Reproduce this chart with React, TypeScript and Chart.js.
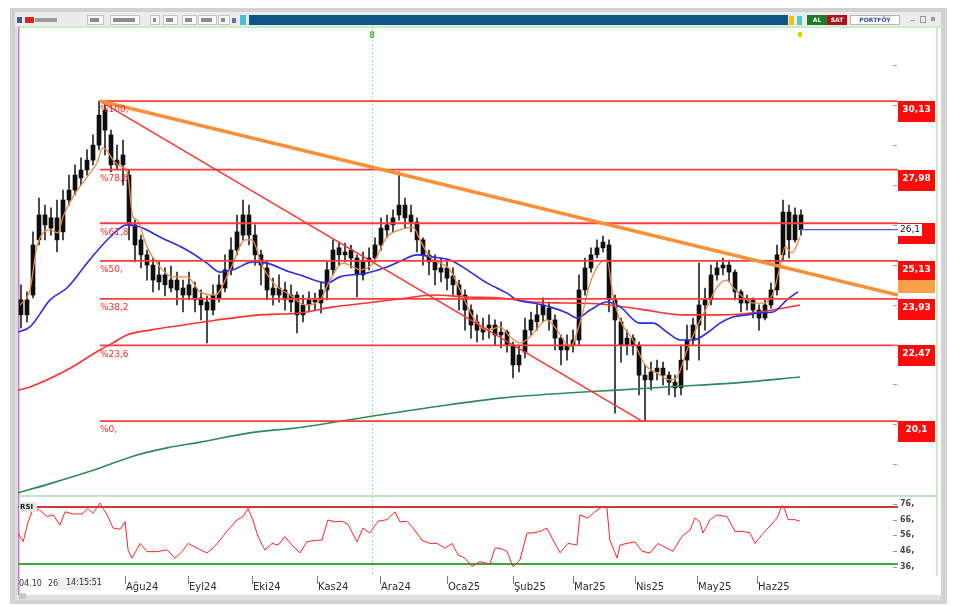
import React, { useEffect, useRef } from "react";
import { Chart, registerables } from "chart.js";

Chart.register(...registerables);

// ---------------- data ----------------
// one candle every two trading days, first candle on trading day 1
const candleFirstDay = 1;
const candleStepDays = 2;

const candleOpen = [
  23.90, 23.43, 24.05, 25.78, 26.56, 26.15, 26.47, 26.03, 27.03, 27.34,
  27.72, 27.97, 28.28, 28.75, 29.85, 29.07, 28.13, 28.44, 27.81, 26.25,
  25.78, 25.31, 24.99, 24.46, 24.68, 24.27, 24.52, 24.27, 24.05, 24.27,
  23.96, 23.83, 23.58, 23.96, 24.27, 24.84, 25.46, 25.93, 26.56, 25.93,
  25.31, 24.90, 24.27, 24.05, 24.21, 23.83, 24.05, 23.43, 23.74, 23.90,
  23.80, 24.21, 24.84, 25.53, 25.31, 25.46, 25.21, 24.68, 25.09, 25.21,
  25.62, 26.09, 26.25, 26.56, 26.87, 26.56, 26.34, 25.78, 25.31, 25.09,
  24.77, 24.90, 24.65, 24.37, 24.05, 23.58, 23.21, 22.89, 23.02, 23.11,
  22.80, 22.89, 22.48, 21.86, 22.26, 22.95, 23.21, 23.43, 23.64, 23.27,
  22.70, 22.33, 22.48, 22.64, 24.21, 24.90, 25.31, 25.53, 25.62, 23.90,
  23.21, 22.48, 22.70, 22.48, 21.54, 21.39, 21.64, 21.76, 21.54, 21.32,
  21.14, 22.01, 22.64, 23.11, 23.74, 23.90, 24.68, 24.90, 24.99, 24.77,
  24.15, 23.80, 23.90, 23.58, 23.33, 23.74, 24.21, 25.31, 26.65, 25.78,
  26.56,
];
const candleHigh = [
  24.37, 24.15, 26.03, 27.09, 26.87, 26.78, 27.03, 27.34, 27.81, 28.13,
  28.35, 28.60, 29.07, 30.13, 30.01, 29.22, 28.75, 28.91, 27.97, 26.40,
  25.93, 25.46, 25.21, 25.09, 24.90, 24.96, 24.77, 24.52, 24.77, 24.46,
  24.21, 24.02, 24.37, 24.68, 25.31, 25.84, 26.56, 27.03, 26.87, 26.25,
  25.46, 25.15, 24.58, 24.68, 24.46, 24.37, 24.15, 24.05, 24.15, 24.11,
  24.46, 25.09, 25.78, 25.71, 25.68, 25.62, 25.31, 25.40, 25.53, 25.84,
  26.47, 26.56, 26.72, 27.91, 27.09, 26.87, 26.47, 25.84, 25.46, 25.31,
  25.21, 25.09, 24.90, 24.52, 24.21, 23.74, 23.43, 23.33, 23.43, 23.27,
  23.21, 22.95, 22.58, 22.48, 23.33, 23.52, 23.74, 23.96, 23.83, 23.43,
  22.80, 22.80, 22.95, 24.68, 25.21, 25.53, 25.78, 25.90, 25.78, 24.05,
  23.33, 22.95, 22.80, 22.58, 21.86, 21.95, 22.01, 21.95, 21.64, 21.54,
  22.48, 23.11, 23.33, 25.05, 24.27, 24.99, 25.09, 25.21, 25.15, 24.84,
  24.21, 24.05, 23.96, 23.74, 23.90, 24.43, 25.62, 27.03, 26.87, 26.78,
  26.72,
];
const candleLow = [
  23.02, 23.21, 23.96, 25.62, 25.78, 25.93, 25.40, 25.78, 26.87, 27.19,
  27.50, 27.81, 28.13, 28.60, 28.44, 27.91, 27.97, 27.50, 25.78, 25.09,
  24.90, 24.52, 24.15, 24.21, 24.02, 24.15, 23.74, 23.52, 23.90, 23.52,
  23.27, 22.55, 23.43, 23.83, 24.15, 24.68, 25.31, 25.78, 25.62, 24.99,
  24.37, 23.90, 23.74, 23.83, 23.58, 23.52, 22.86, 23.21, 23.52, 23.58,
  23.49, 23.90, 24.68, 24.99, 25.09, 24.90, 23.99, 24.52, 24.84, 25.09,
  25.46, 25.84, 26.03, 26.40, 26.15, 26.03, 25.40, 24.99, 24.68, 24.37,
  24.46, 24.21, 24.05, 23.58, 22.95, 22.70, 22.58, 22.64, 22.70, 22.48,
  22.39, 22.26, 21.45, 21.64, 22.08, 22.80, 22.95, 23.21, 22.95, 22.33,
  21.86, 22.01, 22.26, 22.48, 24.05, 24.77, 25.21, 25.40, 23.52, 20.35,
  21.95, 22.17, 22.17, 20.92, 20.10, 21.08, 21.39, 21.23, 20.92, 20.86,
  20.92, 21.70, 22.48, 22.01, 22.95, 23.74, 24.52, 24.68, 24.46, 23.90,
  23.52, 23.58, 23.33, 22.95, 23.27, 23.64, 24.05, 25.15, 25.21, 25.71,
  25.93,
];
const candleClose = [
  23.43, 23.90, 25.62, 26.56, 26.25, 26.47, 25.78, 27.03, 27.34, 27.81,
  27.97, 28.28, 28.75, 29.69, 29.22, 28.13, 28.28, 28.13, 26.25, 25.62,
  25.31, 24.99, 24.52, 24.68, 24.37, 24.52, 24.21, 24.05, 24.37, 23.90,
  23.74, 23.58, 24.05, 24.37, 24.84, 25.46, 26.03, 26.56, 25.93, 25.31,
  24.99, 24.21, 24.05, 24.27, 23.90, 24.05, 23.43, 23.74, 23.90, 23.83,
  24.21, 24.84, 25.46, 25.31, 25.40, 25.21, 24.68, 25.09, 25.21, 25.62,
  26.15, 26.25, 26.47, 26.87, 26.47, 26.34, 25.78, 25.31, 25.09, 24.84,
  24.90, 24.58, 24.37, 24.05, 23.58, 23.11, 22.95, 23.02, 23.11, 22.80,
  22.89, 22.48, 21.86, 22.17, 22.95, 23.27, 23.43, 23.74, 23.27, 22.70,
  22.33, 22.48, 22.64, 24.21, 24.90, 25.31, 25.53, 25.71, 23.90, 23.27,
  22.48, 22.70, 22.48, 21.54, 21.39, 21.64, 21.76, 21.54, 21.32, 21.14,
  22.01, 22.64, 23.11, 23.74, 23.90, 24.68, 24.90, 24.99, 24.77, 24.15,
  23.80, 23.90, 23.58, 23.33, 23.74, 24.21, 25.31, 26.65, 25.78, 26.56,
  26.10,
];

// moving averages: [trading day, value]
const orangeMA = [
  [0.7, 23.74], [4, 24.21], [6.3, 25.56], [10.7, 26.09], [13.3, 26.0], [15, 26.5], [18.3, 27.12],
  [23, 27.75], [26.3, 28.19], [28.3, 28.66], [30, 28.53], [31.7, 28.28], [34.7, 28.06], [36.3, 27.97],
  [38.3, 26.5], [39.7, 26.4], [43, 25.56], [46.3, 25.05], [51.7, 24.62], [56.3, 24.62], [60.7, 24.15],
  [65.7, 24.05], [70.7, 24.84], [75.7, 25.78], [78, 25.78], [81.3, 24.99], [85.7, 24.37], [90.7, 24.05],
  [95.7, 23.74], [100.7, 23.9], [104, 24.52], [108.3, 25.05], [111.7, 24.93], [114, 24.84], [118.3, 25.05],
  [123, 25.87], [127.3, 26.09], [131.7, 26.18], [134, 25.78], [137.3, 25.24], [144, 24.84], [147.3, 24.21],
  [151.7, 23.36], [156.3, 22.95], [160.7, 23.05], [164, 22.74], [167.3, 22.55], [170.7, 22.74], [176.3, 23.27],
  [179.7, 22.95], [184, 22.42], [187.3, 23.17], [190.7, 24.43], [194, 25.05], [196.3, 25.15], [198.3, 24.05],
  [200.7, 23.27], [205, 22.64], [209, 21.86], [213, 21.61], [217.3, 21.39], [219.7, 21.48], [223, 22.33],
  [226.3, 23.05], [229.7, 23.68], [233, 24.3], [236.3, 24.52], [238.3, 24.3], [241.7, 23.99], [245, 23.8],
  [248.3, 23.8], [251.7, 24.11], [254, 24.93], [255.7, 25.56], [258, 25.37], [260.7, 25.87],
];
const blueMA = [
  [0, 22.89], [4, 23.05], [10.7, 23.9], [16.3, 24.27], [23, 25.05], [30.7, 25.87], [36.3, 26.25],
  [40.7, 26.18], [47.3, 25.87], [56.3, 25.46], [63, 25.05], [67.3, 24.77], [71.7, 24.84], [78.3, 25.09],
  [83, 25.05], [90.7, 24.77], [94, 24.68], [103, 24.43], [107.3, 24.62], [116.3, 24.74], [123, 24.93],
  [128.3, 25.15], [133, 25.31], [138.3, 25.24], [144, 25.15], [149.7, 24.84], [156.3, 24.43], [163, 24.11],
  [166.3, 23.9], [171.7, 23.8], [177.3, 23.68], [183, 23.49], [186.3, 23.33], [190.7, 23.58], [196.3, 23.83],
  [200.7, 23.68], [207.3, 23.17], [211.7, 23.17], [216.3, 22.89], [220.7, 22.64], [225, 22.64], [229.7, 22.86],
  [234, 23.17], [238.3, 23.36], [243, 23.43], [247.3, 23.49], [251.7, 23.52], [256.3, 23.9], [260, 24.15],
];
const redMA = [
  [0, 21.07], [4, 21.17], [16.3, 21.7], [27.3, 22.33], [31.7, 22.55], [36.3, 22.8], [44, 22.95],
  [55, 23.11], [66.3, 23.27], [80.7, 23.43], [94, 23.49], [105, 23.68], [116.3, 23.8], [129.7, 23.96],
  [138.3, 24.05], [149.7, 23.99], [160.7, 23.96], [171.7, 23.83], [183, 23.8], [194, 23.77], [207.3, 23.61],
  [221.7, 23.43], [234, 23.43], [247.3, 23.52], [260.7, 23.74],
];
const greenMA = [
  [0, 17.85], [10.7, 18.14], [27.3, 18.63], [38.3, 19.0], [49.7, 19.26], [60.7, 19.44], [77.3, 19.73],
  [94, 19.9], [116.3, 20.23], [138.3, 20.54], [160.7, 20.82], [183, 20.98], [199.7, 21.07], [216.3, 21.17],
  [238.3, 21.29], [260.7, 21.48],
];

// RSI: [trading day, value]
const rsiSeries = [
  [0, 57.6], [1.7, 52], [3.3, 64], [5, 73], [7.3, 72], [9.7, 68], [11.7, 69], [14, 62.6], [15.7, 71],
  [18.3, 69.6], [21.3, 69.6], [23.3, 73], [25, 70], [27.3, 76.5], [29.7, 69], [31.7, 60.7], [34, 60],
  [35.7, 64.7], [36.7, 46.8], [38, 41.7], [39, 45], [40.7, 51], [43, 45.8], [46.3, 45.8], [49.7, 47],
  [52.3, 41.7], [54.7, 45.8], [56.7, 51], [59.7, 48], [63, 45], [65, 48], [67.3, 53], [70, 59.5],
  [73, 65.8], [75, 68], [76.7, 73], [78.3, 65.8], [80, 55.3], [82.3, 46.8], [84.7, 51], [86.7, 50],
  [89, 55.3], [91.3, 50], [94, 45], [96.3, 52], [99, 53], [101.3, 53], [103.3, 65.8], [105.7, 64.6],
  [108, 65], [110, 63], [113, 52], [115, 60.7], [117.3, 57.6], [120, 65], [123, 66], [125.7, 71],
  [127.3, 64.6], [129.7, 65], [131.7, 60.7], [134.7, 53], [137.3, 51], [139.7, 51], [142.3, 48],
  [144.7, 51], [146.7, 43.7], [149, 41.7], [151.3, 36.3], [154, 39.5], [157.3, 38], [159, 48],
  [160.7, 48], [163, 46], [165, 36.3], [167.3, 40.5], [169.7, 57.6], [171.7, 57.6], [174, 58.6],
  [176.3, 60.7], [178, 54.4], [180.7, 45], [183.3, 51], [186.3, 50], [187.3, 69], [190, 67],
  [192.3, 71], [194.7, 74], [196.3, 73.4], [197.3, 53], [199.7, 41.7], [200.7, 50], [203, 51],
  [205.7, 52], [208, 46], [210.7, 45], [213.3, 51], [216.3, 48], [218.3, 46], [221.3, 55.3],
  [224, 59.5], [225.7, 67], [227.3, 64.6], [228.3, 57.6], [230.7, 66], [233, 69], [236.3, 68],
  [239, 58.6], [241.7, 58.6], [244, 57.6], [245.7, 51], [248, 56.6], [250.7, 62], [253, 67],
  [254.7, 75], [255.7, 72], [256.7, 66], [259, 66], [260.7, 65],
];
const rsiUpper = 74;
const rsiLower = 38;
const rsiTickValues = [76, 66, 56, 46, 36];
const rsiTickLabels = ["76,", "66,", "56,", "46,", "36,"];

// Fibonacci retracement
const fibLevels = [30.13, 27.98, 26.3, 25.12, 23.93, 22.47, 20.1];
const fibNames = ["%100,", "%78,6", "%61,8", "%50,", "%38,2", "%23,6", "%0,"];
const fibBoxText = ["30,13", "27,98", "", "25,13", "23,93", "22,47", "20,1"];
const fibStartDay = 27.3;
const axisEndDay = 293.3;
const trendLine = [[27.3, 30.13], [293.3, 24.05]];
const retraceLine = [[27.3, 30.13], [208, 20.1]];
const lastPrice = 26.1;
const lastPriceText = "26,1";
const lastDay = 260.7;

// time axis
const monthLabels = ["Ağu24", "Eyl24", "Eki24", "Kas24", "Ara24", "Oca25", "Şub25", "Mar25", "Nis25", "May25", "Haz25"];
const monthDays = [35.7, 56.7, 78, 99.7, 120.7, 143, 165, 185, 205.7, 226.3, 246.3];
const priceTickValues = [18.75, 20, 21.25, 22.5, 23.75, 25, 26.25, 27.5, 28.75, 30, 31.25];
const eventDay = 118;

// ---------------- helpers ----------------
const pts = (arr: number[][]) => arr.map((p) => ({ x: p[0], y: p[1] }));
const FONT = '"DejaVu Sans", sans-serif';

const decorPlugin = {
  id: "decor",
  beforeDraw(chart: any) {
    const ctx = chart.ctx;
    ctx.save();
    ctx.fillStyle = "#ffffff";
    ctx.fillRect(0, 0, 960, 606);
    // window frame
    ctx.fillStyle = "#d2d2d2";
    ctx.fillRect(10, 8, 937, 4);
    ctx.fillRect(10, 8, 5, 596);
    ctx.fillRect(941, 8, 6, 596);
    ctx.fillRect(10, 600, 937, 4);
    // toolbar
    ctx.fillStyle = "#ececec";
    ctx.fillRect(15, 12, 926, 14);
    ctx.fillStyle = "#0d5585";
    ctx.fillRect(249, 15, 539, 10);
    ctx.fillStyle = "#5050a8";
    ctx.fillRect(17, 17, 5, 6);
    ctx.fillStyle = "#e02020";
    ctx.fillRect(25, 17, 9, 6);
    ctx.fillStyle = "#9a9a9a";
    ctx.fillRect(35, 18, 22, 4);
    const boxes = [[87, 17], [110, 30], [150, 10], [163, 15], [182, 15], [198, 19], [218, 12]];
    boxes.forEach(([bx, bw]) => {
      ctx.fillStyle = "#f8f8f8";
      ctx.fillRect(bx, 15, bw, 10);
      ctx.strokeStyle = "#c4c4c4";
      ctx.lineWidth = 1;
      ctx.strokeRect(bx + 0.5, 15.5, bw - 1, 9);
      ctx.fillStyle = "#8c8c8c";
      ctx.fillRect(bx + 3, 18, Math.max(3, bw - 8), 4);
    });
    ctx.fillStyle = "#6a6ab0";
    ctx.fillRect(232, 18, 4, 5);
    ctx.fillStyle = "#49c0d8";
    ctx.fillRect(240, 15, 6, 10);
    // right toolbar buttons
    ctx.fillStyle = "#f2c21a";
    ctx.fillRect(789, 16, 5, 9);
    ctx.fillStyle = "#56c4c8";
    ctx.fillRect(797, 16, 5, 9);
    ctx.fillStyle = "#1d7a26";
    ctx.fillRect(807, 15, 20, 10);
    ctx.fillStyle = "#b0101e";
    ctx.fillRect(827, 15, 20, 10);
    ctx.fillStyle = "#ffffff";
    ctx.fillRect(850, 15, 50, 10);
    ctx.strokeStyle = "#b8b8b8";
    ctx.strokeRect(850.5, 15.5, 49, 9);
    ctx.font = "bold 6px " + FONT;
    ctx.textAlign = "center";
    ctx.textBaseline = "middle";
    ctx.fillStyle = "#ffffff";
    ctx.fillText("AL", 817, 20.5);
    ctx.fillText("SAT", 837, 20.5);
    ctx.fillStyle = "#3346b0";
    ctx.fillText("PORTFÖY", 875, 20.5);
    ctx.fillStyle = "#9a9a9a";
    ctx.fillRect(910, 20, 5, 1);
    ctx.strokeStyle = "#9a9a9a";
    ctx.strokeRect(920.5, 16.5, 5, 6);
    ctx.fillRect(931, 17, 4, 4);
    // plot frame lines
    ctx.fillStyle = "#c6efc6";
    ctx.fillRect(15, 26, 926, 2);
    ctx.fillRect(936, 26, 2, 550);
    ctx.fillStyle = "#dcdcdc";
    ctx.fillRect(15, 26, 3, 574);
    ctx.fillStyle = "#c77dd0";
    ctx.fillRect(18, 27, 1.5, 571);
    // separator between price panel and RSI panel
    ctx.fillStyle = "#bfe8bf";
    ctx.fillRect(19, 495, 917, 2);
    // bottom scroll strip
    ctx.fillStyle = "#e0e0e0";
    ctx.fillRect(15, 595, 926, 5);
    ctx.fillStyle = "#c8c8c8";
    ctx.fillRect(19, 593, 7, 6);
    ctx.restore();
  },
  beforeDatasetsDraw(chart: any) {
    const ctx = chart.ctx;
    const xs = chart.scales.x;
    const ex = Math.round(xs.getPixelForValue(eventDay)) + 0.5;
    ctx.save();
    ctx.strokeStyle = "#9fe09f";
    ctx.lineWidth = 1;
    ctx.setLineDash([2, 2]);
    ctx.beginPath();
    ctx.moveTo(ex, 28);
    ctx.lineTo(ex, 574);
    ctx.stroke();
    ctx.restore();
  },
  afterDatasetsDraw(chart: any) {
    const ctx = chart.ctx;
    const xs = chart.scales.x;
    const ys = chart.scales.y;
    const yr = chart.scales.yr;
    ctx.save();
    // fib level names
    ctx.font = "9px " + FONT;
    ctx.textAlign = "left";
    ctx.textBaseline = "middle";
    ctx.fillStyle = "#ff2a2a";
    const fx = xs.getPixelForValue(fibStartDay);
    fibLevels.forEach((v, i) => {
      ctx.fillText(fibNames[i], fx, ys.getPixelForValue(v) + 9);
    });
    // price axis tick marks
    ctx.fillStyle = "#a0a0a0";
    priceTickValues.forEach((v) => {
      const py = Math.round(ys.getPixelForValue(v));
      if (py > 30 && py < 490) ctx.fillRect(893, py, 4, 1);
    });
    // fib boxes on the right
    ctx.font = "bold 9px " + FONT;
    ctx.textAlign = "center";
    fibLevels.forEach((v, i) => {
      const top = Math.round(ys.getPixelForValue(v));
      ctx.fillStyle = "#ff0a0a";
      ctx.fillRect(898, top, 37, 21);
      if (fibBoxText[i]) {
        ctx.fillStyle = "#ffffff";
        ctx.fillText(fibBoxText[i], 916.5, top + 9);
      }
    });
    // trendline price box
    const ty = Math.round(ys.getPixelForValue(trendLine[1][1]));
    ctx.fillStyle = "#f7a04c";
    ctx.fillRect(898, ty - 15, 37, 13);
    // last price label
    const ly = Math.round(ys.getPixelForValue(lastPrice));
    ctx.fillStyle = "#ffffff";
    ctx.fillRect(898, ly - 6, 24, 12);
    ctx.fillStyle = "#111111";
    ctx.font = "9px " + FONT;
    ctx.textAlign = "left";
    ctx.fillText(lastPriceText, 900, ly);
    // RSI labels
    ctx.font = "bold 8px " + FONT;
    rsiTickValues.forEach((v, i) => {
      const py = Math.round(yr.getPixelForValue(v));
      ctx.fillStyle = "#9a9a9a";
      ctx.fillRect(893, py, 4, 1);
      ctx.fillStyle = "#4a4a4a";
      ctx.fillText(rsiTickLabels[i], 900, py);
    });
    ctx.fillStyle = "#e6e6e6";
    ctx.fillRect(19, 502, 18, 10);
    ctx.fillStyle = "#111111";
    ctx.font = "bold 7px " + FONT;
    ctx.fillText("RSI", 20, 507);
    // event markers at top
    ctx.fillStyle = "#3cb83c";
    ctx.font = "bold 8px " + FONT;
    ctx.textAlign = "center";
    ctx.fillText("8", xs.getPixelForValue(eventDay), 36);
    ctx.fillStyle = "#f0d000";
    ctx.fillRect(798, 32, 4, 5);
    // time axis
    ctx.font = "10px " + FONT;
    ctx.textAlign = "left";
    monthDays.forEach((d, i) => {
      const x = Math.round(xs.getPixelForValue(d));
      ctx.fillStyle = "#7a7a7a";
      ctx.fillRect(x, 576, 1, 8);
      ctx.fillStyle = "#2c2c2c";
      ctx.fillText(monthLabels[i], x + 1, 587);
    });
    // cursor date box bottom-left
    ctx.fillStyle = "#ededed";
    ctx.fillRect(57, 577, 44, 13);
    ctx.fillStyle = "#333333";
    ctx.font = "8px " + FONT;
    ctx.fillText("04.10", 19, 584);
    ctx.fillText("26", 48, 584);
    ctx.fillText("14:15:51", 66, 583);
    ctx.restore();
  },
};

export default function App() {
  const ref = useRef<HTMLCanvasElement>(null);
  useEffect(() => {
    const canvas = ref.current;
    if (!canvas) return;
    const bodyData = candleClose.map((c, k) => ({ x: candleFirstDay + candleStepDays * k, y: [candleOpen[k], c] }));
    const wickData = candleClose.map((c, k) => ({ x: candleFirstDay + candleStepDays * k, y: [candleLow[k], candleHigh[k]] }));
    const line = (data: any[], color: string, width: number, order: number, axis = "y", extra: any = {}) => ({
      type: "line",
      data,
      borderColor: color,
      borderWidth: width,
      pointRadius: 0,
      fill: false,
      order,
      yAxisID: axis,
      ...extra,
    });
    const datasets: any[] = [
      line(pts(trendLine), "#f79038", 3.5, 1),
      line(pts(retraceLine), "#ff3030", 1.4, 2),
      ...fibLevels.map((v) => line([{ x: fibStartDay, y: v }, { x: axisEndDay, y: v }], "#ff3c3c", 1.8, 3)),
      line([{ x: lastDay, y: lastPrice }, { x: axisEndDay, y: lastPrice }], "#5a5ad0", 1.2, 3),
      line(pts(orangeMA), "#f08640", 1.3, 4, "y", { cubicInterpolationMode: "monotone" }),
      line(pts(blueMA), "#2a2af0", 1.6, 5, "y", { cubicInterpolationMode: "monotone" }),
      line(pts(redMA), "#ff3030", 1.6, 6, "y", { cubicInterpolationMode: "monotone" }),
      line(pts(greenMA), "#2e8b57", 1.6, 7, "y", { cubicInterpolationMode: "monotone" }),
      line([{ x: 0, y: rsiUpper }, { x: axisEndDay, y: rsiUpper }], "#cc3a3a", 2, 8, "yr"),
      line([{ x: 0, y: rsiLower }, { x: axisEndDay, y: rsiLower }], "#3aa83a", 2, 8, "yr"),
      line(pts(rsiSeries), "#ff2424", 1, 4, "yr"),
      {
        type: "bar",
        data: bodyData,
        backgroundColor: "#0e0e0e",
        borderWidth: 0,
        barThickness: 4,
        minBarLength: 1,
        grouped: false,
        order: 10,
        yAxisID: "y",
      },
      {
        type: "bar",
        data: wickData,
        backgroundColor: "#262626",
        borderWidth: 0,
        barThickness: 1,
        minBarLength: 1,
        grouped: false,
        order: 11,
        yAxisID: "y",
      },
    ];
    const chart = new Chart(canvas, {
      type: "bar",
      data: { datasets },
      options: {
        animation: false,
        responsive: false,
        devicePixelRatio: 1,
        events: [],
        layout: { padding: { left: 18, right: 62, top: 28, bottom: 34 } },
        plugins: { legend: { display: false }, tooltip: { enabled: false }, title: { display: false } },
        scales: {
          x: { type: "linear", display: false, min: 0, max: 293.33, offset: false, grid: { display: false } },
          y: { type: "linear", display: false, min: 15.37, max: 32.42, grid: { display: false } },
          yr: { type: "linear", display: false, min: 32.94, max: 376.6, grid: { display: false } },
        },
      } as any,
      plugins: [decorPlugin as any],
    } as any);
    return () => chart.destroy();
  }, []);
  return (
    <div style={{ position: "fixed", left: 0, top: 0, width: 960, height: 606, background: "#fff" }}>
      <canvas ref={ref} width={960} height={606} style={{ display: "block", width: 960, height: 606 }} />
    </div>
  );
}
